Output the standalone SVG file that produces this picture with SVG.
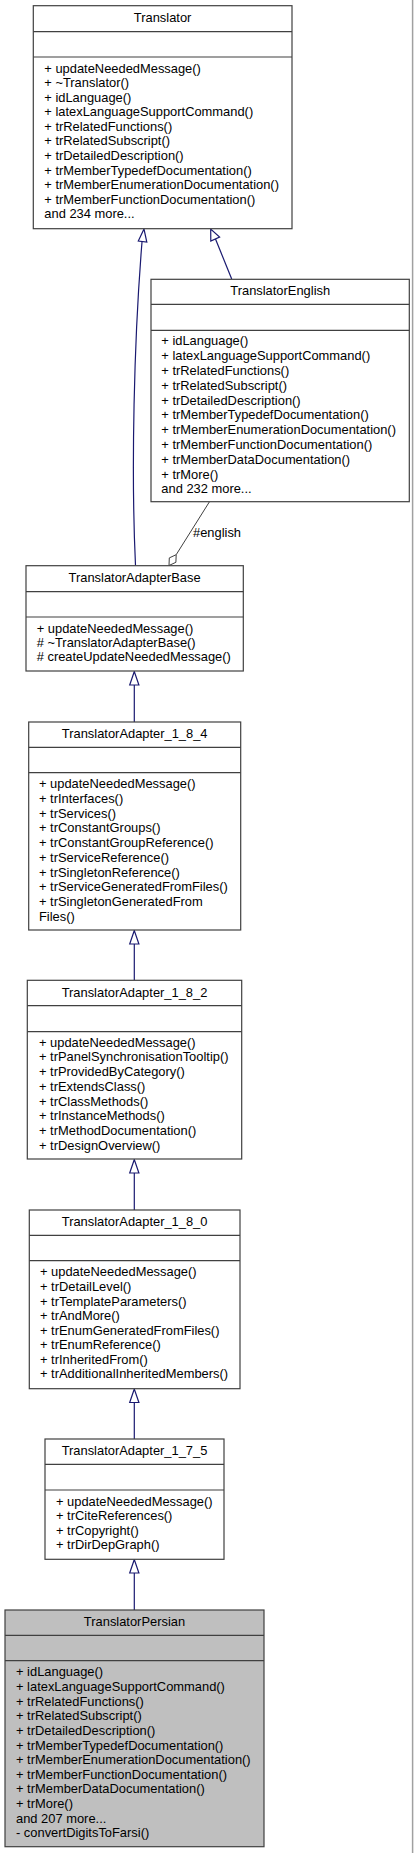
<svg xmlns="http://www.w3.org/2000/svg" width="415" height="1853" viewBox="0 0 415 1853">
<style>
.box{fill:#ffffff;stroke:#404040;stroke-width:1.2}
.sel{fill:#bfbfbf;stroke:#404040;stroke-width:1.2}
.div{stroke:#404040;stroke-width:1.2}
text{font-family:"Liberation Sans",Arial,Helvetica,sans-serif;font-size:12.9px;fill:#000000}
.t{text-anchor:middle}
.inh{fill:none;stroke:#191970;stroke-width:1.2}
.head{fill:#ffffff;stroke:#191970;stroke-width:1.2}
.use{fill:none;stroke:#404040;stroke-width:1}
.dia{fill:#ffffff;stroke:#404040;stroke-width:1}
</style>
<rect x="0" y="0" width="415" height="1853" fill="#ffffff"/>
<line x1="412.6" y1="0" x2="412.6" y2="1853" stroke="#a0a0a0" stroke-width="1.5"/>

<g id="connectors">
  <path class="inh" d="M135.5,565.5 C131,470 134,340 142,242"/>
  <polygon class="head" points="144,229 138.3,241 146.8,242"/>
  <path class="inh" d="M231.7,279 L215.5,239"/>
  <polygon class="head" points="210.7,229 210.8,241 219.6,237"/>
  <path class="use" d="M209.3,502 L176.2,554.7"/>
  <polygon class="dia" points="169,565.5 169.3,557.9 176.2,554.7 175.9,562.3"/>
  <text x="193" y="536.5">#english</text>
  <line class="inh" x1="134.3" y1="685" x2="134.3" y2="722"/>
  <polygon class="head" points="134.3,671.5 129.7,685 138.9,685"/>
  <line class="inh" x1="134.3" y1="944" x2="134.3" y2="980.3"/>
  <polygon class="head" points="134.3,930.5 129.7,944 138.9,944"/>
  <line class="inh" x1="134.3" y1="1173" x2="134.3" y2="1210"/>
  <polygon class="head" points="134.3,1159.5 129.7,1173 138.9,1173"/>
  <line class="inh" x1="134.3" y1="1402.5" x2="134.3" y2="1439"/>
  <polygon class="head" points="134.3,1389 129.7,1402.5 138.9,1402.5"/>
  <line class="inh" x1="134.3" y1="1573" x2="134.3" y2="1610"/>
  <polygon class="head" points="134.3,1559.5 129.7,1573 138.9,1573"/>
</g>

<g id="Translator">
  <rect class="box" x="33.3" y="5.7" width="258.7" height="223"/>
  <line class="div" x1="33.3" y1="31.7" x2="292" y2="31.7"/>
  <line class="div" x1="33.3" y1="57" x2="292" y2="57"/>
  <text class="t" x="162.6" y="21.7">Translator</text>
  <text x="44.3" y="72.7">+ updateNeededMessage()</text>
  <text x="44.3" y="87.25">+ ~Translator()</text>
  <text x="44.3" y="101.8">+ idLanguage()</text>
  <text x="44.3" y="116.35">+ latexLanguageSupportCommand()</text>
  <text x="44.3" y="130.9">+ trRelatedFunctions()</text>
  <text x="44.3" y="145.45">+ trRelatedSubscript()</text>
  <text x="44.3" y="160">+ trDetailedDescription()</text>
  <text x="44.3" y="174.55">+ trMemberTypedefDocumentation()</text>
  <text x="44.3" y="189.1">+ trMemberEnumerationDocumentation()</text>
  <text x="44.3" y="203.65">+ trMemberFunctionDocumentation()</text>
  <text x="44.3" y="218.2">and 234 more...</text>
</g>

<g id="TranslatorEnglish">
  <rect class="box" x="151" y="279.3" width="258.3" height="222.4"/>
  <line class="div" x1="151" y1="304.3" x2="409.3" y2="304.3"/>
  <line class="div" x1="151" y1="330.3" x2="409.3" y2="330.3"/>
  <text class="t" x="280.2" y="295">TranslatorEnglish</text>
  <text x="161.3" y="345.3">+ idLanguage()</text>
  <text x="161.3" y="360.1">+ latexLanguageSupportCommand()</text>
  <text x="161.3" y="374.9">+ trRelatedFunctions()</text>
  <text x="161.3" y="389.7">+ trRelatedSubscript()</text>
  <text x="161.3" y="404.5">+ trDetailedDescription()</text>
  <text x="161.3" y="419.3">+ trMemberTypedefDocumentation()</text>
  <text x="161.3" y="434.1">+ trMemberEnumerationDocumentation()</text>
  <text x="161.3" y="448.9">+ trMemberFunctionDocumentation()</text>
  <text x="161.3" y="463.7">+ trMemberDataDocumentation()</text>
  <text x="161.3" y="478.5">+ trMore()</text>
  <text x="161.3" y="493.3">and 232 more...</text>
</g>

<g id="TranslatorAdapterBase">
  <rect class="box" x="26" y="565.7" width="217.3" height="105.3"/>
  <line class="div" x1="26" y1="591.7" x2="243.3" y2="591.7"/>
  <line class="div" x1="26" y1="617" x2="243.3" y2="617"/>
  <text class="t" x="134.6" y="581.5">TranslatorAdapterBase</text>
  <text x="36.7" y="633">+ updateNeededMessage()</text>
  <text x="36.7" y="646.5">#  ~TranslatorAdapterBase()</text>
  <text x="36.7" y="661.3">#  createUpdateNeededMessage()</text>
</g>

<g id="TranslatorAdapter_1_8_4">
  <rect class="box" x="28.7" y="722" width="212" height="208"/>
  <line class="div" x1="28.7" y1="747.3" x2="240.7" y2="747.3"/>
  <line class="div" x1="28.7" y1="772.7" x2="240.7" y2="772.7"/>
  <text class="t" x="134.7" y="737.5">TranslatorAdapter_1_8_4</text>
  <text x="39" y="788.3">+ updateNeededMessage()</text>
  <text x="39" y="803">+ trInterfaces()</text>
  <text x="39" y="817.7">+ trServices()</text>
  <text x="39" y="832.4">+ trConstantGroups()</text>
  <text x="39" y="847.1">+ trConstantGroupReference()</text>
  <text x="39" y="861.8">+ trServiceReference()</text>
  <text x="39" y="876.5">+ trSingletonReference()</text>
  <text x="39" y="891.2">+ trServiceGeneratedFromFiles()</text>
  <text x="39" y="905.9">+ trSingletonGeneratedFrom</text>
  <text x="39" y="920.6">Files()</text>
</g>

<g id="TranslatorAdapter_1_8_2">
  <rect class="box" x="27.3" y="980.3" width="214.4" height="178.7"/>
  <line class="div" x1="27.3" y1="1005.7" x2="241.7" y2="1005.7"/>
  <line class="div" x1="27.3" y1="1031.7" x2="241.7" y2="1031.7"/>
  <text class="t" x="134.5" y="997.2">TranslatorAdapter_1_8_2</text>
  <text x="39" y="1046.7">+ updateNeededMessage()</text>
  <text x="39" y="1061.4">+ trPanelSynchronisationTooltip()</text>
  <text x="39" y="1076.1">+ trProvidedByCategory()</text>
  <text x="39" y="1090.8">+ trExtendsClass()</text>
  <text x="39" y="1105.5">+ trClassMethods()</text>
  <text x="39" y="1120.2">+ trInstanceMethods()</text>
  <text x="39" y="1134.9">+ trMethodDocumentation()</text>
  <text x="39" y="1149.6">+ trDesignOverview()</text>
</g>

<g id="TranslatorAdapter_1_8_0">
  <rect class="box" x="29.3" y="1210" width="210.7" height="178.7"/>
  <line class="div" x1="29.3" y1="1235.3" x2="240" y2="1235.3"/>
  <line class="div" x1="29.3" y1="1260.7" x2="240" y2="1260.7"/>
  <text class="t" x="134.6" y="1225.8">TranslatorAdapter_1_8_0</text>
  <text x="40" y="1276.3">+ updateNeededMessage()</text>
  <text x="40" y="1290.9">+ trDetailLevel()</text>
  <text x="40" y="1305.5">+ trTemplateParameters()</text>
  <text x="40" y="1320">+ trAndMore()</text>
  <text x="40" y="1334.6">+ trEnumGeneratedFromFiles()</text>
  <text x="40" y="1349.2">+ trEnumReference()</text>
  <text x="40" y="1363.7">+ trInheritedFrom()</text>
  <text x="40" y="1378.3">+ trAdditionalInheritedMembers()</text>
</g>

<g id="TranslatorAdapter_1_7_5">
  <rect class="box" x="45" y="1439" width="179" height="120.3"/>
  <line class="div" x1="45" y1="1464.3" x2="224" y2="1464.3"/>
  <line class="div" x1="45" y1="1490" x2="224" y2="1490"/>
  <text class="t" x="134.5" y="1454.8">TranslatorAdapter_1_7_5</text>
  <text x="56" y="1505.6">+ updateNeededMessage()</text>
  <text x="56" y="1520.2">+ trCiteReferences()</text>
  <text x="56" y="1534.8">+ trCopyright()</text>
  <text x="56" y="1549.4">+ trDirDepGraph()</text>
</g>

<g id="TranslatorPersian">
  <rect class="sel" x="5" y="1610" width="259" height="236.7"/>
  <line class="div" x1="5" y1="1635.3" x2="264" y2="1635.3"/>
  <line class="div" x1="5" y1="1660.7" x2="264" y2="1660.7"/>
  <text class="t" x="134.5" y="1625.8">TranslatorPersian</text>
  <text x="16" y="1676.3">+ idLanguage()</text>
  <text x="16" y="1690.9">+ latexLanguageSupportCommand()</text>
  <text x="16" y="1705.6">+ trRelatedFunctions()</text>
  <text x="16" y="1720.2">+ trRelatedSubscript()</text>
  <text x="16" y="1734.9">+ trDetailedDescription()</text>
  <text x="16" y="1749.5">+ trMemberTypedefDocumentation()</text>
  <text x="16" y="1764.1">+ trMemberEnumerationDocumentation()</text>
  <text x="16" y="1778.8">+ trMemberFunctionDocumentation()</text>
  <text x="16" y="1793.4">+ trMemberDataDocumentation()</text>
  <text x="16" y="1808.1">+ trMore()</text>
  <text x="16" y="1822.7">and 207 more...</text>
  <text x="16" y="1837.3">- convertDigitsToFarsi()</text>
</g>
</svg>
